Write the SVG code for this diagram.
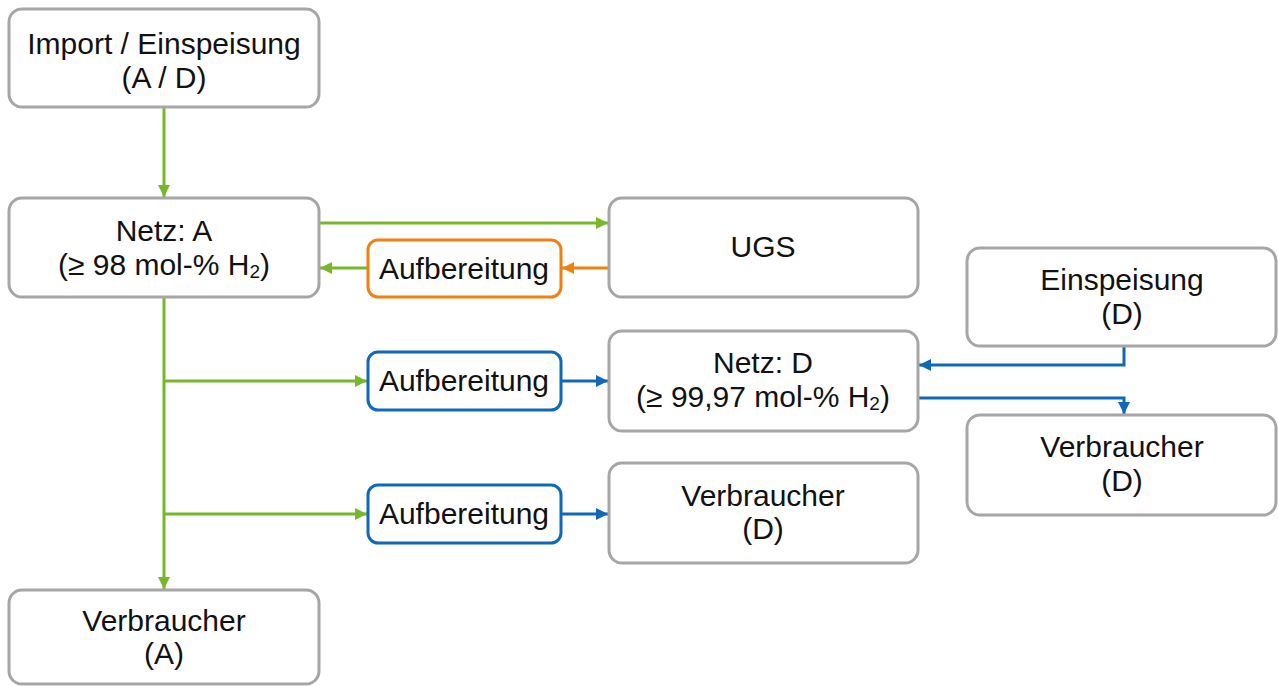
<svg xmlns="http://www.w3.org/2000/svg" width="1278" height="686" viewBox="0 0 1278 686">
<style>
.box{fill:#fff;stroke:#A6A6A6;stroke-width:3}
.ora{fill:#fff;stroke:#F08010;stroke-width:3}
.blu{fill:#fff;stroke:#1068B8;stroke-width:3}
text{font-family:"Liberation Sans",Arial,sans-serif;font-size:30px;fill:#111;text-anchor:middle}
.g{stroke:#77B82A;stroke-width:3;fill:none}
.o{stroke:#F08010;stroke-width:3;fill:none}
.b{stroke:#1068B8;stroke-width:3;fill:none}
</style>
<defs>
<marker id="ag" markerUnits="userSpaceOnUse" markerWidth="12" markerHeight="12" viewBox="0 0 12 12" refX="12" refY="6" orient="auto"><path d="M0,0 L12,6 L0,12 Z" fill="#77B82A"/></marker>
<marker id="ao" markerUnits="userSpaceOnUse" markerWidth="12" markerHeight="12" viewBox="0 0 12 12" refX="12" refY="6" orient="auto"><path d="M0,0 L12,6 L0,12 Z" fill="#F08010"/></marker>
<marker id="ab" markerUnits="userSpaceOnUse" markerWidth="12" markerHeight="12" viewBox="0 0 12 12" refX="12" refY="6" orient="auto"><path d="M0,0 L12,6 L0,12 Z" fill="#1068B8"/></marker>
</defs>
<g id="connectors">
<path class="g" d="M164,108 V197" marker-end="url(#ag)"/>
<path class="g" d="M320,223 H608" marker-end="url(#ag)"/>
<path class="o" d="M608,268 H562" marker-end="url(#ao)"/>
<path class="g" d="M367,268 H320" marker-end="url(#ag)"/>
<path class="g" d="M164,298 V589" marker-end="url(#ag)"/>
<path class="g" d="M164,381 H367" marker-end="url(#ag)"/>
<path class="g" d="M164,514 H367" marker-end="url(#ag)"/>
<path class="b" d="M562,381 H608" marker-end="url(#ab)"/>
<path class="b" d="M562,514 H608" marker-end="url(#ab)"/>
<path class="b" d="M1124,347 V365 H919" marker-end="url(#ab)"/>
<path class="b" d="M919,398 H1124 V414" marker-end="url(#ab)"/>
</g>
<g id="import"><rect class="box" x="9" y="9" width="310" height="98" rx="13"/><text x="164" y="54">Import / Einspeisung</text><text x="164" y="88">(A / D)</text></g>
<g id="netzA"><rect class="box" x="9" y="198" width="310" height="99" rx="13"/><text x="164" y="241">Netz: A</text><text x="164" y="275">(≥ 98 mol-% H<tspan font-size="19" dy="3">2</tspan><tspan dy="-3">)</tspan></text></g>
<g id="ugs"><rect class="box" x="609" y="198" width="309" height="99" rx="13"/><text x="763" y="257">UGS</text></g>
<g id="aufb1"><rect class="ora" x="368" y="240" width="193" height="57" rx="10"/><text x="464" y="279">Aufbereitung</text></g>
<g id="einspD"><rect class="box" x="967" y="248" width="309" height="98" rx="13"/><text x="1122" y="290">Einspeisung</text><text x="1122" y="324">(D)</text></g>
<g id="netzD"><rect class="box" x="609" y="331" width="309" height="100" rx="13"/><text x="763" y="373">Netz: D</text><text x="763" y="407">(≥ 99,97 mol-% H<tspan font-size="19" dy="3">2</tspan><tspan dy="-3">)</tspan></text></g>
<g id="aufb2"><rect class="blu" x="368" y="352" width="193" height="58" rx="10"/><text x="464" y="391">Aufbereitung</text></g>
<g id="verbDr"><rect class="box" x="967" y="415" width="309" height="100" rx="13"/><text x="1122" y="457">Verbraucher</text><text x="1122" y="491">(D)</text></g>
<g id="aufb3"><rect class="blu" x="368" y="485" width="193" height="58" rx="10"/><text x="464" y="524">Aufbereitung</text></g>
<g id="verbDm"><rect class="box" x="609" y="463" width="309" height="100" rx="13"/><text x="763" y="506">Verbraucher</text><text x="763" y="539">(D)</text></g>
<g id="verbA"><rect class="box" x="9" y="590" width="310" height="94" rx="13"/><text x="164" y="631">Verbraucher</text><text x="164" y="664">(A)</text></g>
</svg>
